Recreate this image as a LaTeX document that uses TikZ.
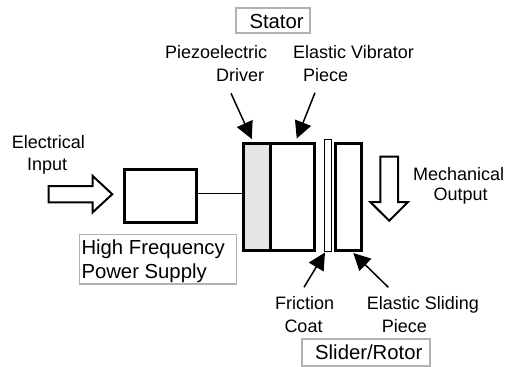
\documentclass[tikz,border=0pt]{standalone}
\usepackage{fontspec}
\setmainfont{Liberation Sans}
\usetikzlibrary{arrows.meta}
\begin{document}
\begin{tikzpicture}[x=1pt,y=-1pt,
  thickbox/.style={draw=black,line width=3pt,inner sep=0pt,outer sep=0pt,line join=miter},
  thinbox/.style={draw=black,line width=1pt,inner sep=0pt,outer sep=0pt},
  labelbox/.style={draw=black!30,line width=1.5pt,inner sep=0pt,outer sep=0pt},
  lbl/.style={font=\fontsize{18}{22}\selectfont,inner sep=0pt,anchor=base west},
  big/.style={font=\fontsize{20.3}{24}\selectfont,inner sep=0pt,anchor=base west},
  pointer/.style={line width=1.5pt,-{Triangle[length=17pt,width=17pt]}},
  blockarrow/.style={draw=black,line width=2pt,fill=white,line join=miter}]
\useasboundingbox (0,0) rectangle (507,367);

% label boxes
\node[labelbox,anchor=north west,minimum width=74pt,minimum height=25pt] (stbox) at (236,8) {};
\node[big] (stator) at (249.3,28.3) {Stator};
\node[labelbox,anchor=north west,minimum width=157pt,minimum height=49.5pt] (hfbox) at (79.3,234.5) {};
\node[big] (hf1) at (81.3,254) {High Frequency};
\node[big] (hf2) at (81.3,278.6) {Power Supply};
\node[labelbox,anchor=north west,minimum width=128pt,minimum height=27pt] (srbox) at (302,339) {};
\node[big] (sr) at (315,359) {Slider/Rotor};

% text labels
\node[lbl] (pz1) at (165,58.3) {Piezoelectric};
\node[lbl] (pz2) at (216,81) {Driver};
\node[lbl] (ev1) at (293,58.3) {Elastic Vibrator};
\node[lbl] (ev2) at (303,81) {Piece};
\node[lbl] (ei1) at (11.7,148.3) {Electrical};
\node[lbl] (ei2) at (27,170.7) {Input};
\node[lbl] (mo1) at (413,180) {Mechanical};
\node[lbl] (mo2) at (433.3,200.7) {Output};
\node[lbl] (fc1) at (275,309.3) {Friction};
\node[lbl] (fc2) at (284.3,332) {Coat};
\node[lbl] (es1) at (366.7,309.3) {Elastic Sliding};
\node[lbl] (es2) at (381.7,332) {Piece};

% components
\node[thickbox,minimum width=72pt,minimum height=53.6pt,anchor=north west] (ps) at (124.2,169.2) {};
\node[thickbox,fill=black!10,minimum width=26.5pt,minimum height=107pt,anchor=north west] (pz) at (243.5,143.5) {};
\node[thickbox,minimum width=44.5pt,minimum height=107pt,anchor=north west] (vb) at (270,143.5) {};
\node[thinbox,minimum width=7pt,minimum height=112.5pt,anchor=north west] (coat) at (324.5,139) {};
\node[thickbox,minimum width=25.5pt,minimum height=107pt,anchor=north west] (sl) at (335.5,143.5) {};

% wire
\coordinate (wy) at (0,193);
\draw[line width=1pt] (ps.east |- wy) -- (pz.west |- wy);

% pointers
\coordinate (pzt) at (231,93.3);
\coordinate (evt) at (315,92.7);
\coordinate (fct) at (304,287.3);
\coordinate (est) at (388.3,287.3);
\draw[pointer] (pzt) -- ([xshift=-5pt,yshift=4.5pt]pz.north);
\draw[pointer] (evt) -- ([xshift=4.5pt,yshift=5pt]vb.north);
\draw[pointer] (fct) -- ([xshift=-3pt,yshift=-1pt]coat.south);
\draw[pointer] (est) -- ([xshift=5pt,yshift=-2.5pt]sl.south);

% block arrows
\draw[blockarrow] (48.7,186) -- (92.7,186) -- (92.7,176) -- (112.3,194.2) -- (92.7,212.3) -- (92.7,202.3) -- (48.7,202.3) -- cycle;
\draw[blockarrow] (380.3,156.7) -- (398,156.7) -- (398,202) -- (408,202) -- (389.2,220.7) -- (370.3,202) -- (380.3,202) -- cycle;
\end{tikzpicture}
\end{document}
